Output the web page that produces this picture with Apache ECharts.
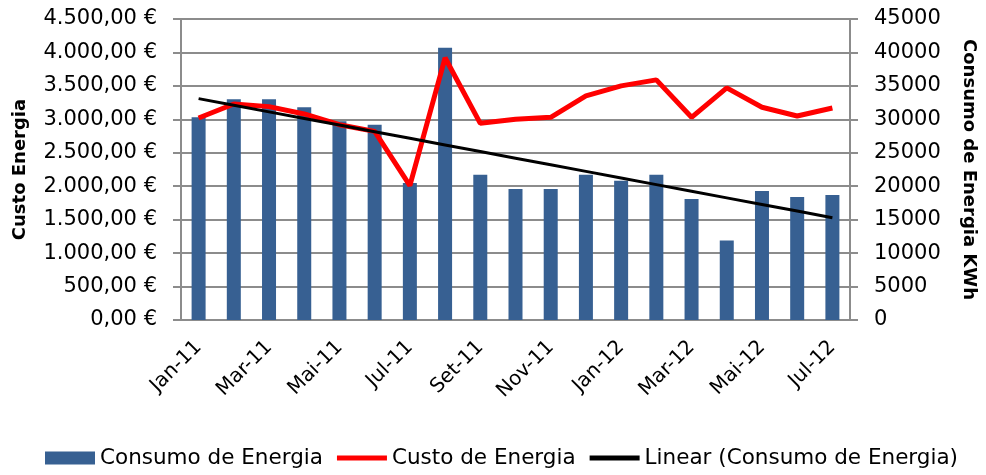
<!DOCTYPE html>
<html>
<head>
<meta charset="utf-8">
<script src="https://cdn.jsdelivr.net/npm/echarts@6/dist/echarts.min.js"></script>
<style>
    html, body { margin: 0; padding: 0; background: #fff; }
    #chart { width: 986px; height: 475px; }
</style>
</head>
<body>
<div id="chart"></div>
<script>
// months, as in the sheet
var meses = ["Jan-11", "Fev-11", "Mar-11", "Abr-11", "Mai-11", "Jun-11", "Jul-11", "Ago-11", "Set-11",
    "Out-11", "Nov-11", "Dez-11", "Jan-12", "Fev-12", "Mar-12", "Abr-12", "Mai-12", "Jun-12", "Jul-12"];
// kWh (right axis)
var consumo = [30300, 33000, 33000, 31800, 29700, 29200, 20500, 40700, 21700,
    19600, 19600, 21700, 20800, 21700, 18100, 11900, 19300, 18400, 18700];
// euros (left axis)
var custo = [3020, 3230, 3190, 3080, 2920, 2820, 2010, 3920, 2940,
    3000, 3030, 3350, 3500, 3590, 3030, 3470, 3180, 3050, 3170];

// linear trend of consumo (least squares), like Excel's trendline
function tendencia(v) {
    var n = v.length, sx = 0, sy = 0, sxy = 0, sxx = 0;
    for (var i = 0; i < n; i++) {
        sx += i; sy += v[i]; sxy += i * v[i]; sxx += i * i;
    }
    var b = (n * sxy - sx * sy) / (n * sxx - sx * sx);
    var a = (sy - b * sx) / n;
    return v.map(function (_, i) { return +(a + b * i).toFixed(1); });
}

function euro(v) {
    var p = v.toFixed(2).split(".");
    return p[0].replace(/\B(?=(\d{3})+(?!\d))/g, ".") + "," + p[1] + " €";
}

var fonte = "DejaVu Sans";
var cinza = "#8c8c8c";
// thin bar used as legend icon for the two lines
var iconeLinha = "path://M0,0 H50 V5 H0 Z";

var myChart = echarts.init(document.getElementById("chart"));

var option = {
    animation: false,
    textStyle: { fontFamily: fonte },
    grid: { left: 181, right: 129, top: 19, bottom: 155 },
    legend: {
        bottom: 1,
        left: 40,
        itemWidth: 50,
        itemHeight: 13,
        itemGap: 14,
        textStyle: { fontSize: 21.5, color: "#000", fontFamily: fonte },
        data: [
            { name: "Consumo de Energia", icon: "rect" },
            { name: "Custo de Energia", icon: iconeLinha },
            { name: "Linear (Consumo de Energia)", icon: iconeLinha }
        ]
    },
    xAxis: {
        type: "category",
        data: meses,
        boundaryGap: true,
        axisLine: { lineStyle: { color: cinza, width: 2 } },
        axisTick: { interval: 1, length: 8, lineStyle: { color: cinza, width: 2 } },
        axisLabel: { interval: 1, rotate: 45, fontSize: 20, color: "#000", margin: 24 }
    },
    yAxis: [
        {
            type: "value",
            min: 0, max: 4500, interval: 500,
            name: "Custo Energia",
            nameLocation: "middle",
            nameGap: 152,
            nameTextStyle: { fontSize: 18, fontWeight: "bold", color: "#000" },
            axisLine: { show: true, lineStyle: { color: cinza, width: 2 } },
            axisTick: { show: true, length: 8, lineStyle: { color: cinza, width: 2 } },
            axisLabel: { fontSize: 21, color: "#000", formatter: euro, margin: 24 },
            splitLine: { lineStyle: { color: cinza, width: 2 } }
        },
        {
            type: "value",
            min: 0, max: 45000, interval: 5000,
            position: "right",
            name: "Consumo de Energia KWh",
            nameLocation: "middle",
            nameRotate: -90,
            nameGap: 110,
            nameTextStyle: { fontSize: 18, fontWeight: "bold", color: "#000" },
            axisLine: { show: true, lineStyle: { color: cinza, width: 2 } },
            axisTick: { show: true, length: 8, lineStyle: { color: cinza, width: 2 } },
            axisLabel: { fontSize: 21, color: "#000", margin: 24, formatter: function (v) { return String(v); } },
            splitLine: { show: false }
        }
    ],
    series: [
        {
            name: "Consumo de Energia",
            type: "bar",
            yAxisIndex: 1,
            barWidth: 14,
            itemStyle: { color: "#376092" },
            data: consumo
        },
        {
            name: "Custo de Energia",
            type: "line",
            yAxisIndex: 0,
            symbol: "none",
            lineStyle: { color: "#ff0000", width: 5 },
            itemStyle: { color: "#ff0000" },
            data: custo
        },
        {
            name: "Linear (Consumo de Energia)",
            type: "line",
            yAxisIndex: 1,
            symbol: "none",
            lineStyle: { color: "#000", width: 3 },
            itemStyle: { color: "#000" },
            data: tendencia(consumo)
        }
    ]
};

myChart.setOption(option);
window.addEventListener("resize", function () {
    myChart.resize();
});
</script>
</body>
</html>
